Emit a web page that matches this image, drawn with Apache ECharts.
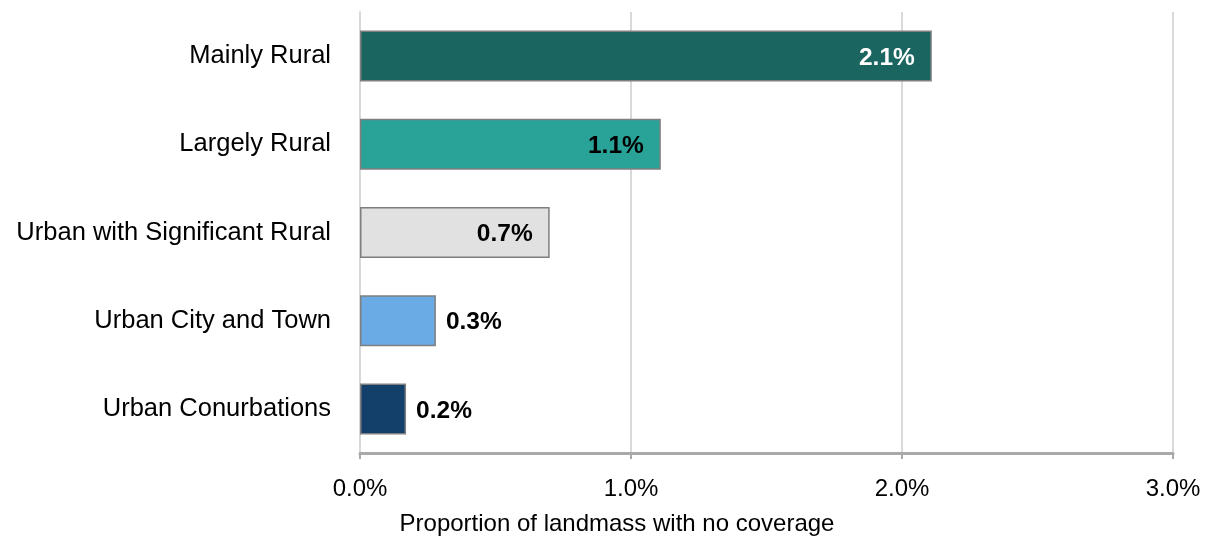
<!DOCTYPE html>
<html>
<head>
<meta charset="utf-8">
<script src="https://cdn.jsdelivr.net/npm/echarts@6/dist/echarts.min.js"></script>
<style>
  html, body { margin: 0; padding: 0; background: #ffffff; }
  #chart { width: 1210px; height: 542px; }
</style>
</head>
<body>
<div id="chart"></div>
<script>
// Area classifications, top to bottom
const categories = [
  'Mainly Rural',
  'Largely Rural',
  'Urban with Significant Rural',
  'Urban City and Town',
  'Urban Conurbations'
];
// Share of landmass with no coverage (%)
const noCoverage = [2.11, 1.11, 0.70, 0.28, 0.17];
const barColors = ['#1b6561', '#29a398', '#e1e1e1', '#6aaae5', '#12406a'];
const labelInside = [true, true, true, false, false];
const labelColors = ['#ffffff', '#000000', '#000000', '#000000', '#000000'];
const xTicks = [0, 1, 2, 3];
const axisTitle = 'Proportion of landmass with no coverage';

const chart = echarts.init(document.getElementById('chart'), null, { renderer: 'canvas' });

const barData = noCoverage.map((v, i) => ({
  value: v,
  itemStyle: { color: barColors[i] },
  label: {
    position: labelInside[i] ? 'insideRight' : 'right',
    distance: labelInside[i] ? 17 : 10,
    offset: [0, 2],
    formatter: p => '{v|' + p.value.toFixed(1) + '%}',
    rich: {
      v: {
        fontFamily: 'Liberation Sans, Arial, sans-serif',
        fontSize: 24.5,
        fontWeight: 'bold',
        color: labelColors[i]
      }
    }
  }
}));

chart.setOption({
  animation: false,
  backgroundColor: '#ffffff',
  title: {
    text: axisTitle,
    left: 612,
    top: 507,
    textAlign: 'center',
    textStyle: {
      fontFamily: 'Liberation Sans, Arial, sans-serif',
      fontSize: 24,
      fontWeight: 'normal',
      color: '#000000'
    }
  },
  grid: { left: 360, right: 37, top: 12, bottom: 89, containLabel: false },
  xAxis: {
    type: 'value',
    min: xTicks[0],
    max: xTicks[xTicks.length - 1],
    interval: 1,
    axisLine: { show: true, lineStyle: { color: '#a9a9a9', width: 3 } },
    axisTick: { show: true, length: 6, lineStyle: { color: '#a9a9a9', width: 2 } },
    splitLine: { show: true, lineStyle: { color: '#d9d9d9', width: 2 } },
    axisLabel: {
      margin: 24,
      color: '#000000',
      fontFamily: 'Liberation Sans, Arial, sans-serif',
      fontSize: 24,
      formatter: v => v.toFixed(1) + '%'
    }
  },
  yAxis: {
    type: 'category',
    data: categories,
    inverse: true,
    axisLine: { show: true, lineStyle: { color: '#d9d9d9', width: 2 } },
    axisTick: { show: false },
    axisLabel: {
      margin: 29,
      color: '#000000',
      fontFamily: 'Liberation Sans, Arial, sans-serif',
      fontSize: 25.5
    }
  },
  series: [{
    type: 'bar',
    data: barData,
    barWidth: 51,
    itemStyle: { borderColor: '#7f7f7f', borderWidth: 1.5 },
    label: { show: true }
  }]
});
</script>
</body>
</html>
